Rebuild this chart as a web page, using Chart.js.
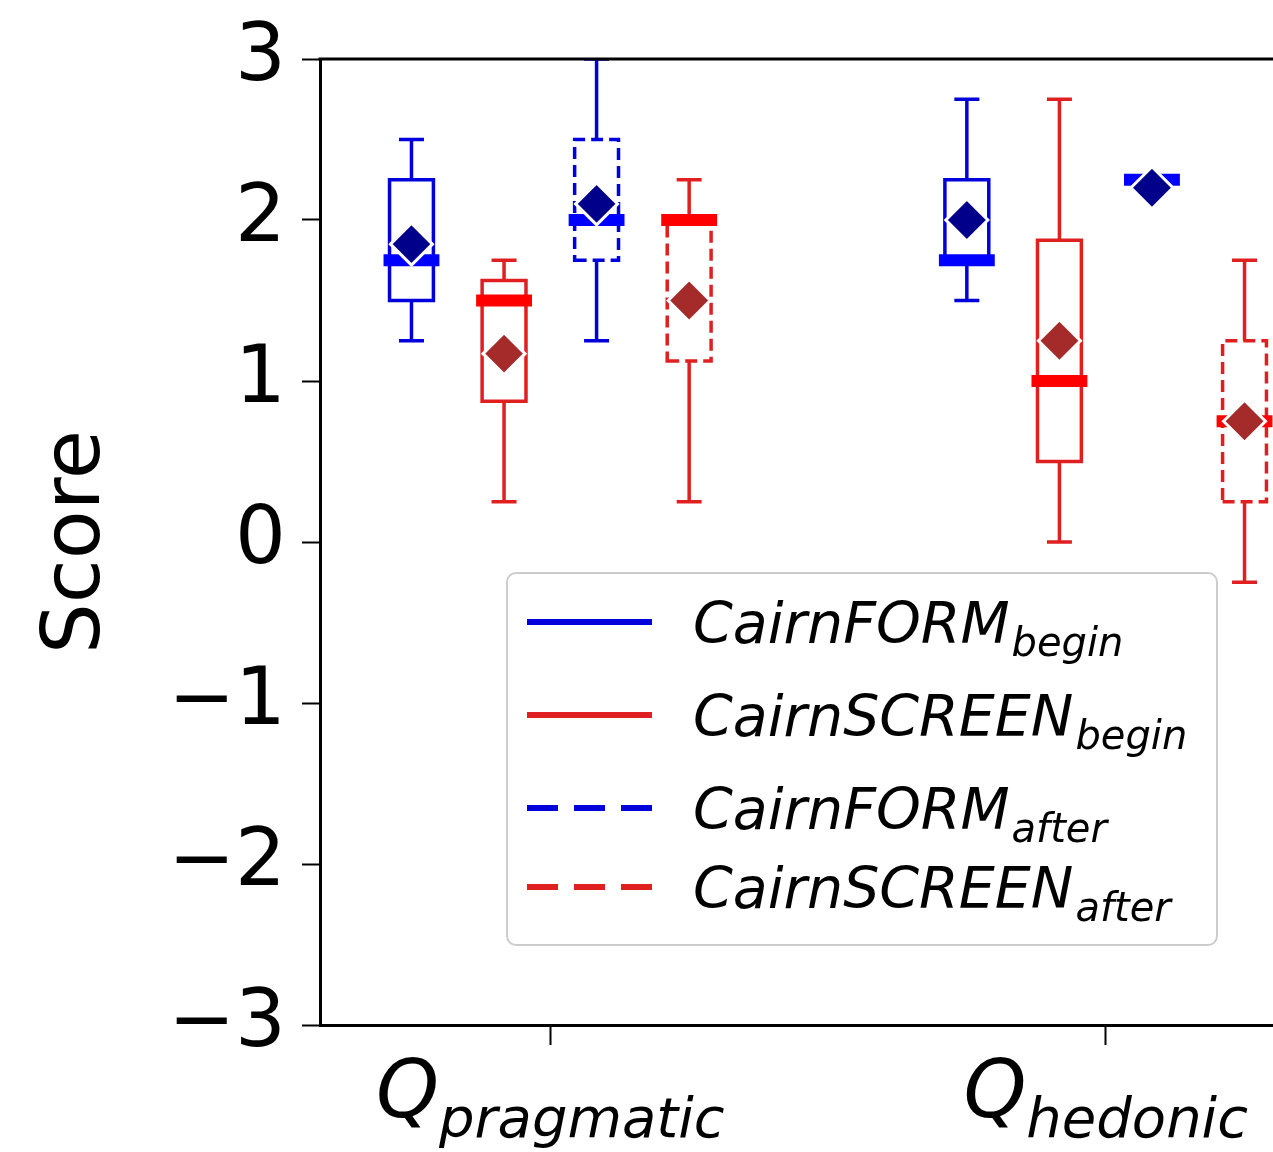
<!DOCTYPE html>
<html>
<head>
<meta charset="utf-8">
<script src="https://cdn.jsdelivr.net/npm/chart.js@4.4.1/dist/chart.umd.min.js"></script>
<style>
  html, body { margin: 0; padding: 0; background: #fff; overflow: hidden; }
  canvas { display: block; }
</style>
</head>
<body>
<canvas id="scoreCanvas" width="1360" height="1152"></canvas>
<script>
// Categories (x positions 1 and 2) and the four series
const CATEGORIES = ['pragmatic', 'hedonic'];
const SERIES_NAMES = ['CairnFORM', 'CairnSCREEN', 'CairnFORM', 'CairnSCREEN'];
const SERIES_SUBS = ['begin', 'begin', 'after', 'after'];
const Y_TICKS = [-3, -2, -1, 0, 1, 2, 3];

// Box statistics, one row per series, [pragmatic, hedonic]
const WHISKER_LOW  = [[1.25, 1.5],  [0.25, 0.0],   [1.25, 2.25], [0.25, -0.25]];
const Q1           = [[1.5, 1.75],  [0.875, 0.5],  [1.75, 2.25], [1.125, 0.25]];
const MEDIAN       = [[1.75, 1.75], [1.5, 1.0],    [2.0, 2.25],  [2.0, 0.75]];
const Q3           = [[2.25, 2.25], [1.625, 1.875],[2.5, 2.25],  [2.0, 1.25]];
const WHISKER_HIGH = [[2.5, 2.75],  [1.75, 2.75],  [3.0, 2.25],  [2.25, 1.75]];
const MEAN         = [[1.85, 2.0],  [1.17, 1.25],  [2.1, 2.2],   [1.5, 0.75]];

// Styling
const OFFSETS = [-0.25, -0.0833, 0.0833, 0.25];
const BOX_W = 0.079;
const CAP_W = 0.045;
const LINE_COLORS = ['#0000dd', '#e02020', '#0000dd', '#e02020'];
const MEDIAN_COLORS = ['#0000ff', '#ff0000', '#0000ff', '#ff0000'];
const MEAN_COLORS = ['#00008b', '#a52a2a', '#00008b', '#a52a2a'];
const DASHED = [false, false, true, true];
const FONT = '"DejaVu Sans", sans-serif';

const boxPlugin = {
  id: 'boxes',
  beforeDatasetsDraw(chart) {
    const { ctx, chartArea: area, scales: { x, y } } = chart;
    ctx.save();
    ctx.beginPath();
    ctx.rect(area.left, area.top, area.right - area.left, area.bottom - area.top);
    ctx.clip();
    SERIES_NAMES.forEach((_, s) => {
      CATEGORIES.forEach((_, c) => {
        const pos = c + 1 + OFFSETS[s];
        const xc = x.getPixelForValue(pos);
        const xl = x.getPixelForValue(pos - BOX_W / 2);
        const xr = x.getPixelForValue(pos + BOX_W / 2);
        const cl = x.getPixelForValue(pos - CAP_W / 2);
        const cr = x.getPixelForValue(pos + CAP_W / 2);
        const yq1 = y.getPixelForValue(Q1[s][c]);
        const yq3 = y.getPixelForValue(Q3[s][c]);
        const ylo = y.getPixelForValue(WHISKER_LOW[s][c]);
        const yhi = y.getPixelForValue(WHISKER_HIGH[s][c]);
        const ymed = y.getPixelForValue(MEDIAN[s][c]);

        ctx.strokeStyle = LINE_COLORS[s];
        ctx.lineWidth = 3.5;
        ctx.lineCap = 'butt';

        // box
        ctx.setLineDash(DASHED[s] ? [12, 6] : []);
        ctx.beginPath();
        ctx.moveTo(xl, yq1);
        ctx.lineTo(xr, yq1);
        ctx.lineTo(xr, yq3);
        ctx.lineTo(xl, yq3);
        ctx.closePath();
        ctx.stroke();

        // whiskers and caps
        ctx.setLineDash([]);
        ctx.beginPath();
        ctx.moveTo(xc, yq1); ctx.lineTo(xc, ylo);
        ctx.moveTo(xc, yq3); ctx.lineTo(xc, yhi);
        ctx.moveTo(cl, ylo); ctx.lineTo(cr, ylo);
        ctx.moveTo(cl, yhi); ctx.lineTo(cr, yhi);
        ctx.stroke();

        // median
        ctx.strokeStyle = MEDIAN_COLORS[s];
        ctx.lineWidth = 12;
        ctx.lineCap = 'square';
        ctx.beginPath();
        ctx.moveTo(xl, ymed);
        ctx.lineTo(xr, ymed);
        ctx.stroke();
      });
    });
    ctx.restore();
  },
  afterDraw(chart) {
    const { ctx, chartArea: area, scales: { x } } = chart;
    ctx.save();
    // top spine
    ctx.strokeStyle = '#000';
    ctx.lineWidth = 3;
    ctx.beginPath();
    ctx.moveTo(area.left - 1.5, area.top);
    ctx.lineTo(area.right, area.top);
    ctx.stroke();

    // x tick labels: Q with subscript
    ctx.fillStyle = '#000';
    ctx.textBaseline = 'alphabetic';
    ctx.textAlign = 'left';
    CATEGORIES.forEach((cat, i) => {
      const xc = x.getPixelForValue(i + 1);
      ctx.font = `italic 80px ${FONT}`;
      const qw = ctx.measureText('Q').width;
      ctx.font = `italic 56px ${FONT}`;
      const sw = ctx.measureText(cat).width;
      const start = xc - (qw + sw) / 2;
      const base = area.bottom + 92;
      ctx.font = `italic 80px ${FONT}`;
      ctx.fillText('Q', start, base);
      ctx.font = `italic 56px ${FONT}`;
      ctx.fillText(cat, start + qw, base + 20);
    });

    // legend
    const lx = area.left + 187, ly = area.top + 514, lw = 710, lh = 372;
    ctx.fillStyle = 'rgba(255,255,255,0.8)';
    ctx.strokeStyle = '#cccccc';
    ctx.lineWidth = 2;
    ctx.beginPath();
    ctx.roundRect(lx, ly, lw, lh, 9);
    ctx.fill();
    ctx.stroke();
    const rowY = [49, 142, 235, 314];
    SERIES_NAMES.forEach((name, s) => {
      const yy = ly + rowY[s];
      ctx.strokeStyle = LINE_COLORS[s];
      ctx.lineWidth = 6;
      ctx.lineCap = 'butt';
      ctx.setLineDash(DASHED[s] ? [31, 16] : []);
      ctx.beginPath();
      ctx.moveTo(lx + 20, yy);
      ctx.lineTo(lx + 145, yy);
      ctx.stroke();
      ctx.setLineDash([]);
      ctx.fillStyle = '#000';
      ctx.font = `italic 57px ${FONT}`;
      ctx.fillText(name, lx + 186, yy + 21);
      const nw = ctx.measureText(name).width;
      ctx.font = `italic 40px ${FONT}`;
      ctx.fillText(SERIES_SUBS[s], lx + 186 + nw + 2, yy + 34);
    });
    ctx.restore();
  }
};

const datasets = SERIES_NAMES.map((name, s) => ({
  label: name + '_' + SERIES_SUBS[s],
  data: CATEGORIES.map((_, c) => ({ x: c + 1 + OFFSETS[s], y: MEAN[s][c] })),
  pointStyle: 'rectRot',
  pointRadius: 21,
  pointBackgroundColor: MEAN_COLORS[s],
  pointBorderColor: '#ffffff',
  pointBorderWidth: 3,
  showLine: false,
}));

new Chart(document.getElementById('scoreCanvas'), {
  type: 'scatter',
  data: { datasets },
  plugins: [boxPlugin],
  options: {
    responsive: false,
    animation: false,
    devicePixelRatio: 1,
    layout: { padding: { top: 59, right: 21, left: 0, bottom: 0 } },
    plugins: { legend: { display: false }, tooltip: { enabled: false } },
    scales: {
      x: {
        type: 'linear',
        min: 0.5853,
        max: 2.4147,
        afterBuildTicks: (s) => { s.ticks = CATEGORIES.map((_, i) => ({ value: i + 1 })); },
        afterFit: (s) => { s.height = 127; },
        ticks: { callback: () => '', autoSkip: false },
        grid: { drawOnChartArea: false, drawTicks: true, tickLength: 20, tickWidth: 2, tickColor: '#000' },
        border: { display: true, color: '#000', width: 3 },
      },
      y: {
        type: 'linear',
        min: -3,
        max: 3,
        afterBuildTicks: (s) => { s.ticks = Y_TICKS.map((v) => ({ value: v })); },
        afterFit: (s) => { s.width = 320; },
        ticks: {
          color: '#000',
          padding: 16,
          font: { family: 'DejaVu Sans', size: 80, lineHeight: 1 },
          callback: (v) => String(v).replace('-', '\u2212'),
        },
        grid: { drawOnChartArea: false, drawTicks: true, tickLength: 18, tickWidth: 2, tickColor: '#000' },
        border: { display: true, color: '#000', width: 3 },
        title: {
          display: true,
          text: 'Score',
          color: '#000',
          font: { family: 'DejaVu Sans', size: 80 },
          padding: { top: 30, bottom: 0 },
        },
      },
    },
  },
});
</script>
</body>
</html>
